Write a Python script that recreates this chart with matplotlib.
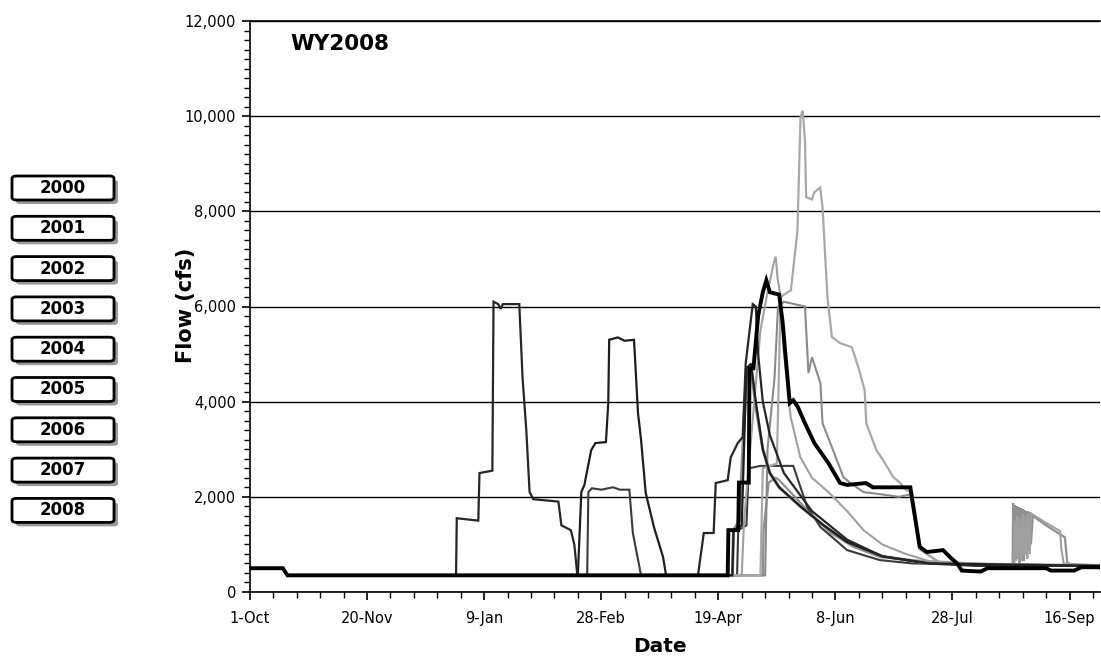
import matplotlib
matplotlib.use("Agg")
import matplotlib.pyplot as plt
from matplotlib.patches import FancyBboxPatch
import numpy as np

# ---------------- data (day of water year from 1-Oct, flow in cfs) ----------------
tick_days = [0, 50, 100, 150, 200, 250, 300, 350]
tick_labels = ["1-Oct", "20-Nov", "9-Jan", "28-Feb", "19-Apr", "8-Jun", "28-Jul", "16-Sep"]
ytick_vals = [0, 2000, 4000, 6000, 8000, 10000, 12000]
ytick_labels = ["0", "2,000", "4,000", "6,000", "8,000", "10,000", "12,000"]
years = ["2000", "2001", "2002", "2003", "2004", "2005", "2006", "2007", "2008"]
title_text = "WY2008"

# winter Jan / Mar releases plus early spring rise
jan_days = [0, 14, 16, 88, 88.3, 97.5, 98, 103.5, 104, 106, 107, 108, 115, 116.4, 118, 119.4, 121,
            131.7, 133, 137, 138.5, 139.8, 191.3, 193.8, 198, 198.9, 204, 205.3, 208.3, 210.4,
            211.7, 214.7, 216, 217, 219, 222, 228, 240, 255, 270, 290, 310, 363]
jan_flow = [500, 500, 350, 350, 1550, 1500, 2500, 2550, 6100, 6050, 5950, 6050, 6050, 4500, 3400, 2100, 1950,
            1900, 1400, 1300, 1000, 350, 350, 1240, 1240, 2290, 2350, 2830, 3130, 3255,
            4810, 6050, 6000, 5000, 4000, 3300, 2500, 1700, 1100, 750, 600, 550, 550]

mar_days = [0, 14, 16, 140, 141.5, 142.8, 145.7, 147.5, 152, 153, 153.4, 157, 160, 164, 165.7, 167,
            169, 172.5, 176.4, 177.7, 206, 206.5, 210, 212, 214, 216, 219, 222, 226, 235, 245, 255,
            270, 290, 363]
mar_flow = [500, 500, 350, 350, 2100, 2250, 2980, 3130, 3150, 3970, 5300, 5350, 5280, 5300, 3760, 3200,
            2080, 1365, 735, 350, 350, 1300, 1400, 4700, 4800, 4000, 3000, 2500, 2200, 1800, 1400, 1050,
            750, 600, 550]

plat_days = [0, 14, 16, 144, 144.5, 146, 150, 155, 158, 162, 163.5, 167, 208, 208.5, 212, 213, 218,
             232, 238, 243.6, 255, 269, 283, 363]
plat_flow = [500, 500, 350, 350, 2100, 2180, 2150, 2200, 2150, 2150, 1240, 350, 350, 1300, 1400, 2600, 2650,
             2650, 1780, 1365, 880, 670, 600, 550]

big_days = [0, 14, 16, 218, 219, 225, 226.6, 229.6, 231, 233.8, 235.1, 236, 237, 237.5, 240, 241, 243.5,
            244.5, 246.6, 248.5, 252, 257, 259.8, 262.5, 263.2, 267.5, 270.4, 274.7, 277.7, 280, 282,
            286, 295, 363]
big_flow = [500, 500, 350, 350, 2600, 2700, 6200, 6300, 6340, 7600, 9980, 10120, 9500, 8300, 8250, 8400, 8500,
            8090, 6200, 5360, 5230, 5145, 4725, 4240, 3545, 2980, 2770, 2415, 2290, 2150, 2100,
            900, 600, 550]

p4_days = [0, 14, 16, 220, 221, 224, 225.5, 228, 237, 238.5, 240, 243.6, 244.5, 249, 253.4, 256.4,
           262, 270, 277, 282, 286, 295, 363]
p4_flow = [500, 500, 350, 350, 3000, 4500, 6000, 6100, 6000, 4600, 4935, 4390, 3550, 2980, 2415, 2290,
           2100, 2050, 2000, 2050, 900, 600, 550]

p2_days = [0, 14, 16, 210, 211, 215, 218, 221, 223.6, 224.5, 225.3, 226.6, 227.9, 230.9, 235, 240,
           247, 255, 262, 270, 280, 290, 326, 326.5, 327, 327.6, 328.2, 328.8, 329.4, 330, 330.6, 331.2,
           331.8, 332.4, 333, 333.6, 340, 346, 346.5, 347.5, 363]
p2_flow = [500, 500, 350, 350, 1500, 3800, 5500, 6300, 6900, 7050, 6600, 6200, 5080, 3675, 2835, 2400,
           2100, 1700, 1300, 1000, 800, 650, 560, 1500, 650, 1600, 700, 1550, 650, 1650, 750, 1600,
           700, 1650, 800, 1650, 1450, 1280, 900, 600, 560]

p8_days = [0, 14, 16, 219, 219.3, 221.5, 224.5, 226, 238, 248, 257.7, 269, 283, 297, 320, 325.7, 325.9,
           326.3, 326.7, 327.1, 327.5, 327.9, 328.3, 328.7, 329.1, 329.5, 329.9, 330.3, 330.7, 331.1,
           331.5, 331.9, 332.3, 332.7, 333.1, 333.5, 334.3, 340, 345.7, 347, 348, 349, 351, 363]
p8_flow = [500, 500, 350, 350, 1300, 2300, 2400, 2350, 1720, 1240, 950, 735, 670, 600, 550, 550, 1870,
           600, 1820, 650, 1800, 700, 1780, 600, 1760, 750, 1740, 650, 1720, 800, 1700, 700, 1690,
           900, 1680, 1000, 1600, 1400, 1220, 1180, 1150, 620, 560, 560]

p6_days = [0, 14, 16, 206, 206.5, 209, 212, 214, 216, 219, 222, 226, 235, 245, 255, 270, 290, 363]
p6_flow = [500, 500, 350, 350, 1300, 1500, 4600, 4700, 3900, 3000, 2500, 2200, 1800, 1400, 1050, 750, 600, 550]

wy08_days = [0, 14, 16, 204, 204.3, 208.5, 208.8, 213, 213.3, 215, 217, 219, 220.5, 222, 226, 227.5,
             229, 230.5, 232, 234, 236.5, 241, 247, 252, 255, 263, 266, 282, 286, 289, 296, 299, 302,
             304, 312, 315, 340, 342, 352, 355, 363]
wy08_flow = [500, 500, 350, 350, 1300, 1300, 2300, 2300, 4700, 4700, 5800, 6300, 6550, 6300, 6250, 5650,
             4800, 3970, 4030, 3885, 3600, 3130, 2710, 2290, 2250, 2290, 2200, 2200, 950, 840, 880, 730, 600,
             450, 430, 500, 500, 450, 450, 520, 520]

# ---------------- figure ----------------
W, H = 1101, 662
fig = plt.figure(figsize=(W / 100, H / 100), dpi=100)
fig.patch.set_facecolor("white")

ax_l, ax_r, ax_t, ax_b = 250, 1100, 21, 592
ax = fig.add_axes([ax_l / W, 1 - ax_b / H, (ax_r - ax_l) / W, (ax_b - ax_t) / H])

series = [
    (p8_days, p8_flow, "#8f8f8f", 1.6),
    (plat_days, plat_flow, "#3a3a3a", 1.5),
    (p6_days, p6_flow, "#8c8c8c", 2.2),
    (p2_days, p2_flow, "#a0a0a0", 1.5),
    (p4_days, p4_flow, "#8a8a8a", 1.5),
    (big_days, big_flow, "#a8a8a8", 1.6),
    (mar_days, mar_flow, "#1e1e1e", 1.6),
    (jan_days, jan_flow, "#262626", 1.6),
    (wy08_days, wy08_flow, "#000000", 2.8),
]
for d, f, c, lw in series:
    ax.plot(d, f, color=c, lw=lw, solid_joinstyle="miter")

ax.set_xlim(0, 363)
ax.set_ylim(0, 12000)
ax.set_xticks(tick_days)
ax.set_xticklabels(tick_labels)
ax.set_xticks(np.arange(0, 363, 10), minor=True)
ax.set_yticks(ytick_vals)
ax.set_yticklabels(ytick_labels)
ax.set_yticks(np.arange(0, 12001, 200), minor=True)

ax.grid(axis="y", color="black", lw=1.0)
ax.set_axisbelow(True)
ax.spines["right"].set_visible(False)
for s in ["left", "bottom", "top"]:
    ax.spines[s].set_linewidth(1.2)

for lab in ax.get_xticklabels() + ax.get_yticklabels():
    lab.set_fontfamily("Liberation Sans Narrow")
    lab.set_fontsize(10.5)
ax.tick_params(axis="both", which="major", direction="out", length=6, width=1.2, pad=4)
ax.tick_params(axis="both", which="minor", direction="out", length=4, width=1.0)
ax.tick_params(axis="x", which="major", pad=8)

fig.text(660 / W, 1 - 646 / H, "Date", ha="center", va="center", fontsize=14.5,
         fontweight="bold", family="Liberation Sans Narrow")
fig.text(186 / W, 1 - 305 / H, "Flow (cfs)", ha="center", va="center", fontsize=15,
         fontweight="bold", rotation=90, family="DejaVu Sans")
fig.text(290 / W, 1 - 44 / H, title_text, ha="left", va="center", fontsize=15.5,
         fontweight="heavy", family="DejaVu Sans")

# year buttons
bx0, bx1 = 12, 114
for i, yr in enumerate(years):
    cy = 188 + i * 40.3
    y0 = cy - 12
    hgt = 24
    shadow = FancyBboxPatch(((bx0 + 4) / W, 1 - (y0 + hgt + 4) / H), (bx1 - bx0) / W, hgt / H,
                            boxstyle="round,pad=0,rounding_size=0.004", transform=fig.transFigure,
                            facecolor="#9a9a9a", edgecolor="none")
    box = FancyBboxPatch((bx0 / W, 1 - (y0 + hgt) / H), (bx1 - bx0) / W, hgt / H,
                         boxstyle="round,pad=0,rounding_size=0.004", transform=fig.transFigure,
                         facecolor="white", edgecolor="black", lw=2.0)
    fig.patches.extend([shadow, box])
    fig.text((bx0 + bx1) / 2 / W, 1 - cy / H, yr, ha="center", va="center", fontsize=12,
             fontweight="bold", family="DejaVu Sans")

fig.savefig("out.png", dpi=100)
